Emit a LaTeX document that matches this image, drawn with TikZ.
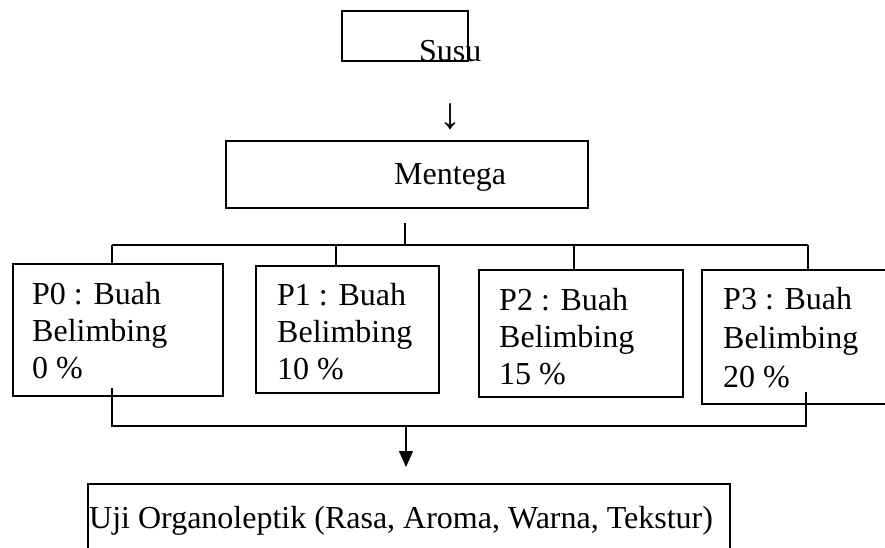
\documentclass[tikz,border=0pt]{standalone}
\usepackage{fontspec}
\setmainfont{Liberation Serif}
\usetikzlibrary{arrows.meta}
\newcommand{\threeln}[4][37pt]{\vtop{\baselineskip=#1\relax\hbox{#2}\hbox{#3}\hbox{#4}}}
\begin{document}
\begin{tikzpicture}[x=1pt,y=-1pt,
  box/.style={draw, line width=2pt, inner sep=0pt, anchor=north west},
  lbl/.style={inner sep=0pt, anchor=base west, font=\fontsize{32}{37}\selectfont},
  conn/.style={line width=1.4pt}]
\clip (0,0) rectangle (885,548);
% boxes
\node[box, minimum width=126pt, minimum height=50pt] (susubox) at (341,10) {};
\node[box, minimum width=362pt, minimum height=67pt] (mentbox) at (225,140) {};
\node[box, minimum width=210pt, minimum height=132pt] (p0) at (12,263) {};
\node[box, minimum width=183pt, minimum height=127pt] (p1) at (255,265) {};
\node[box, minimum width=204pt, minimum height=127pt] (p2) at (478,269) {};
\node[box, minimum width=200pt, minimum height=134pt] (p3) at (701,269) {};
\node[box, minimum width=642pt, minimum height=100pt] (ujibox) at (87,483) {};
% texts
\node[lbl] (susu) at (419,62) {Susu};
\node[lbl, anchor=base, font=\fontsize{44}{44}\selectfont] (down) at (450,129) {↓};
\node[lbl] (ment) at (394,185) {Mentega};
\node[lbl] (t0) at (32,304) {\threeln{P0 : Buah}{Belimbing}{0 \%}};
\node[lbl] (t1) at (277,305) {\threeln{P1 : Buah}{Belimbing}{10 \%}};
\node[lbl] (t2) at (499,310) {\threeln{P2 : Buah}{Belimbing}{15 \%}};
\node[lbl] (t3) at (723,309) {\threeln[39pt]{P3 : Buah}{Belimbing}{20 \%}};
\node[lbl] (uji) at (89,528) {Uji Organoleptik (Rasa, Aroma, Warna, Tekstur)};
% top connectors
\coordinate (jm) at (405,223);
\coordinate (jh) at (405,245);
\coordinate (h0) at (112,245);
\coordinate (h1) at (336,245);
\coordinate (h2) at (574,245);
\coordinate (h3) at (808,245);
\draw[conn] (jm) -- (jh);
\draw[conn] (h0) -- (h3);
\draw[conn] (h0) -- (h0 |- p0.north);
\draw[conn] (h1) -- (h1 |- p1.north);
\draw[conn] (h2) -- (h2 |- p2.north);
\draw[conn] (h3) -- (h3 |- p3.north);
% bottom connectors
\coordinate (b0s) at (112,388);
\coordinate (b0) at (112,426);
\coordinate (b3s) at (806,392);
\coordinate (b3) at (806,426);
\coordinate (bm) at (406,426);
\draw[conn] (b0s) -- (b0) -- (b3) -- (b3s);
\draw[conn, -{Triangle[width=14pt,length=16pt]}, shorten >=16pt] (bm) -- (bm |- ujibox.north);
\end{tikzpicture}
\end{document}
